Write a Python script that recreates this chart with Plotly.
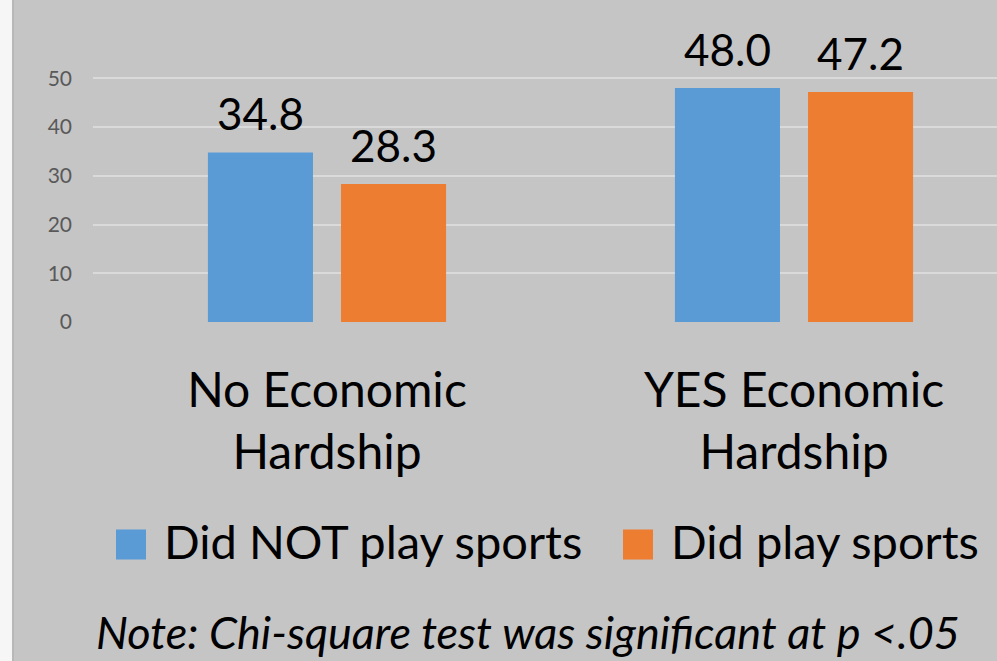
import plotly.graph_objects as go

categories = ["No Economic<br>Hardship", "YES Economic<br>Hardship"]
series_names = ["Did NOT play sports", "Did play sports"]
not_play = [34.8, 48.0]
did_play = [28.3, 47.2]
series_values = [not_play, did_play]
colors = ["#5b9bd5", "#ed7d31"]
y_ticks = [0, 10, 20, 30, 40, 50]
note_text = "Note: Chi-square test was significant at p <.05"

W, H = 997, 661
L, R, T, B = 93, 0, 0, 339.3
PW, PH = W - L - R, H - T - B
FONT = "Lato"

def px(xp):
    return (xp - L) / PW

def py(yp):
    return (H - B - yp) / PH

bar_width = 0.225
offsets = [-0.255, 0.03]

fig = go.Figure()
for name, vals, col, off in zip(series_names, series_values, colors, offsets):
    fig.add_trace(go.Bar(
        x=categories, y=vals, name=name, marker=dict(color=col, line=dict(width=0)),
        width=bar_width, offset=off, showlegend=False,
    ))

annotations = []
unit_px = 467
for vals, off in zip(series_values, offsets):
    for c, v in zip(categories, vals):
        annotations.append(dict(
            x=c, y=v, xref="x", yref="y", text=f"{v:.1f}", showarrow=False,
            xshift=(off + bar_width / 2) * unit_px, yanchor="bottom", yshift=11,
            font=dict(family=FONT, size=44, color="#000000"),
        ))

# custom legend
legend_squares = [(116, 146), (623, 653)]
legend_text_x = [162, 669]
shapes = []
for (x0, x1), col, tx, name in zip(legend_squares, colors, legend_text_x, series_names):
    shapes.append(dict(type="rect", xref="paper", yref="paper",
                       x0=px(x0), x1=px(x1), y0=py(559), y1=py(529),
                       fillcolor=col, line=dict(width=0)))
    annotations.append(dict(x=px(tx), y=py(540), xref="paper", yref="paper",
                            xanchor="left", yanchor="middle", text=name, showarrow=False,
                            font=dict(family=FONT, size=47, color="#000000")))

annotations.append(dict(x=px(528), y=py(631), xref="paper", yref="paper",
                        xanchor="center", yanchor="middle", text=f"<i>{note_text}</i>",
                        showarrow=False, borderpad=0,
                        font=dict(family=FONT, size=45, color="#000000")))

# left white strip
shapes.append(dict(type="rect", xref="paper", yref="paper", x0=px(0), x1=px(12),
                   y0=py(H), y1=py(0), fillcolor="#f6f6f6", line=dict(width=0), layer="below"))
shapes.append(dict(type="rect", xref="paper", yref="paper", x0=px(12), x1=px(14),
                   y0=py(H), y1=py(0), fillcolor="#b8b8b8", line=dict(width=0), layer="below"))

fig.update_layout(
    width=W, height=H,
    margin=dict(l=L, r=R, t=T, b=B, pad=0),
    paper_bgcolor="#c5c5c6", plot_bgcolor="#c5c5c6",
    barmode="overlay",
    showlegend=False,
    annotations=annotations,
    shapes=shapes,
    xaxis=dict(range=[(L - 327) / unit_px, (W - 327) / unit_px], showgrid=False, zeroline=False,
               showline=False, ticks="", tickfont=dict(family=FONT, size=48, color="#000000"),
               ticklabelstandoff=36, fixedrange=True),
    yaxis=dict(range=[0, PH / 4.868], tickvals=y_ticks, showgrid=True, gridcolor="#dadada",
               gridwidth=1.5, zeroline=False, showline=False, ticks="",
               tickfont=dict(family=FONT, size=21, color="#595959"), ticklabelstandoff=20),
)

fig.write_html("out.html")
